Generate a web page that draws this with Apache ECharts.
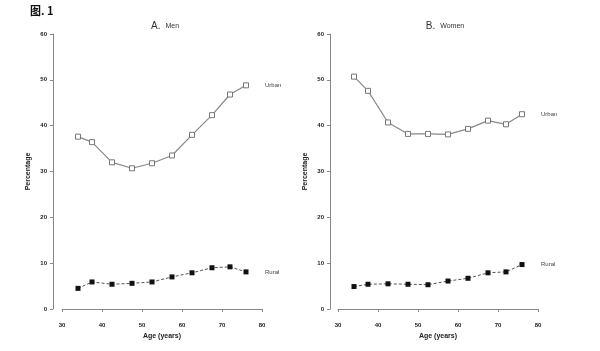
<!DOCTYPE html>
<html>
<head>
<meta charset="UTF-8"/>
<script src="https://cdn.jsdelivr.net/npm/echarts@6/dist/echarts.min.js"></script>
<style>
  html, body { margin: 0; padding: 0; background: #fff; }
  #main { width: 600px; height: 351px; }
</style>
</head>
<body>
<div id="main"></div>
<script type="text/javascript">
// 年龄（横坐标）
var ages = [34, 37.5, 42.5, 47.5, 52.5, 57.5, 62.5, 67.5, 72, 76];
// A. Men
var menUrban = [37.6, 36.4, 32.0, 30.7, 31.8, 33.5, 38.0, 42.3, 46.8, 48.8];
var menRural = [4.5, 5.9, 5.4, 5.6, 5.9, 7.0, 7.9, 9.0, 9.2, 8.1];
// B. Women
var womenUrban = [50.7, 47.6, 40.7, 38.2, 38.2, 38.1, 39.3, 41.1, 40.3, 42.5];
var womenRural = [4.9, 5.4, 5.5, 5.4, 5.3, 6.1, 6.7, 7.9, 8.1, 9.7];

var axisGray = '#888';
var txt = '#222';

function pairs(vals) {
  var out = [];
  for (var i = 0; i < ages.length; i++) out.push([ages[i], vals[i]]);
  return out;
}

function xAx(idx) {
  return {
    type: 'value', gridIndex: idx, min: 30, max: 80, interval: 10,
    offset: 8,
    name: 'Age (years)', nameLocation: 'middle', nameGap: 14,
    nameTextStyle: { fontSize: 7, fontWeight: 'bold', color: txt },
    axisLine: { show: true, lineStyle: { color: axisGray, width: 1 } },
    axisTick: { show: true, length: 3, lineStyle: { color: axisGray } },
    axisLabel: { fontSize: 6, color: txt, margin: 5, fontWeight: 'bold' },
    splitLine: { show: false }
  };
}

function yAx(idx, off) {
  return {
    type: 'value', gridIndex: idx, min: 0, max: 60, interval: 10,
    offset: off,
    name: 'Percentage', nameLocation: 'middle', nameGap: 21,
    nameTextStyle: { fontSize: 7, fontWeight: 'bold', color: txt },
    axisLine: { show: true, lineStyle: { color: axisGray, width: 1 } },
    axisTick: { show: true, length: 3, lineStyle: { color: axisGray } },
    axisLabel: { fontSize: 6, color: txt, margin: 6, fontWeight: 'bold' },
    splitLine: { show: false }
  };
}

function urbanSeries(idx, vals) {
  return {
    type: 'line', xAxisIndex: idx, yAxisIndex: idx, data: pairs(vals),
    symbol: 'rect', symbolSize: 5,
    lineStyle: { color: '#888', width: 1.2 },
    itemStyle: { color: '#fff', borderColor: '#777', borderWidth: 1 },
    endLabel: { show: true, formatter: 'Urban', fontSize: 6, color: '#444', distance: 19 },
    animation: false
  };
}

function ruralSeries(idx, vals) {
  return {
    type: 'line', xAxisIndex: idx, yAxisIndex: idx, data: pairs(vals),
    symbol: 'rect', symbolSize: 5,
    lineStyle: { color: '#555', width: 1, type: [3, 2] },
    itemStyle: { color: '#111' },
    endLabel: { show: true, formatter: 'Rural', fontSize: 6, color: '#444', distance: 19 },
    animation: false
  };
}

var myChart = echarts.init(document.getElementById('main'));
var option = {
  backgroundColor: '#fff',
  title: [
    { text: '图. 1', left: 25, top: 0, textStyle: { fontSize: 11, fontWeight: 'bold', color: '#111', fontFamily: 'Noto Sans CJK SC' } },
    { text: '{a|A.} {b|Men}', left: 160, top: 12, textAlign: 'center',
      textStyle: { fontWeight: 'normal', rich: { a: { fontSize: 10, color: '#333', fontWeight: 'normal' }, b: { fontSize: 7, color: '#333', fontWeight: 'normal' } } } },
    { text: '{a|B.} {b|Women}', left: 440, top: 12, textAlign: 'center',
      textStyle: { fontWeight: 'normal', rich: { a: { fontSize: 10, color: '#333', fontWeight: 'normal' }, b: { fontSize: 7, color: '#333', fontWeight: 'normal' } } } }
  ],
  grid: [
    { left: 62, width: 200, top: 34, bottom: 42 },
    { left: 338, width: 200, top: 34, bottom: 42 }
  ],
  xAxis: [xAx(0), xAx(1)],
  yAxis: [yAx(0, 9), yAx(1, 8)],
  series: [
    urbanSeries(0, menUrban),
    ruralSeries(0, menRural),
    urbanSeries(1, womenUrban),
    ruralSeries(1, womenRural)
  ]
};
myChart.setOption(option);
</script>
</body>
</html>
